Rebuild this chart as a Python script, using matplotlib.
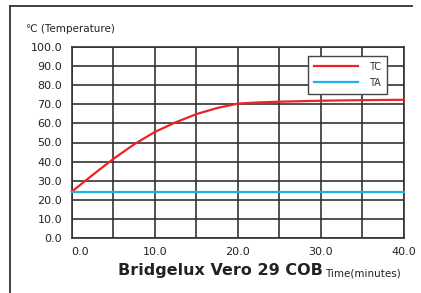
import matplotlib
matplotlib.use("Agg")
import matplotlib.pyplot as plt
from matplotlib.lines import Line2D

time_min = [0, 2.5, 5, 7.5, 10, 12.5, 15, 17.5, 20, 22.5, 25, 30, 35, 40]
tc_vals = [24.3, 33.0, 41.4, 49.0, 55.5, 60.5, 64.8, 68.0, 70.3, 70.9, 71.3, 71.8, 72.1, 72.3]
ta_time = [0, 40]
ta_vals = [24.2, 24.2]
x_ticks = [0, 10, 20, 30, 40]
y_ticks = [0, 10, 20, 30, 40, 50, 60, 70, 80, 90, 100]

W, H = 421, 293
fig = plt.figure(figsize=(W / 100, H / 100), dpi=100)
fig.patch.set_facecolor("white")

def fx(px):
    return px / W

def fy(py):
    return 1 - py / H

# outer frame (partial)
fig.add_artist(Line2D([fx(9.5), fx(9.5)], [fy(6), fy(293)], color="#333333", lw=1.3))
fig.add_artist(Line2D([fx(9.5), fx(412)], [fy(6), fy(6)], color="#333333", lw=1.3))

ax = fig.add_axes([fx(71.7), fy(238.3), fx(404) - fx(71.7), fy(46.7) - fy(238.3)])
ax.set_xlim(0, 40)
ax.set_ylim(0, 100)
ax.set_yticks(y_ticks)
ax.set_xticks(x_ticks, minor=False)
ax.set_xticks([i * 5 for i in range(9)], minor=True)
ax.grid(True, which="both", color="#333333", lw=1.2)
ax.set_axisbelow(True)
for s in ax.spines.values():
    s.set_color("#333333")
    s.set_linewidth(1.2)
ax.tick_params(which="both", length=0, labelsize=8, colors="#222222")
ax.set_xticklabels([f"{v:.1f}" for v in x_ticks])
ax.set_yticklabels([f"{v:.1f}" for v in y_ticks])
ax.tick_params(axis="x", pad=6)
ax.tick_params(axis="y", pad=7)
ax.get_xticklabels()[0].set_horizontalalignment("left")

ax.plot(time_min, tc_vals, color="#ee2222", lw=1.6, label="TC", clip_on=False, zorder=3)
ax.plot(ta_time, ta_vals, color="#18b4ea", lw=1.6, label="TA", clip_on=False, zorder=3)

leg = ax.legend(loc="upper left", bbox_to_anchor=(fx(308), fy(56)), bbox_transform=fig.transFigure,
                borderaxespad=0, fontsize=7, frameon=True, fancybox=False, handlelength=4.5,
                handletextpad=1.2, borderpad=0.6, labelspacing=0.6, labelcolor="#333333")
leg.get_frame().set_edgecolor("#444444")
leg.get_frame().set_linewidth(1.0)
leg.get_frame().set_alpha(1)

fig.text(fx(26), fy(29), "\u2103 (Temperature)", fontsize=7.5, color="#222222", va="center", ha="left")
fig.text(fx(323), fy(271), "Bridgelux Vero 29 COB", fontsize=11.5, fontweight="bold",
         family="DejaVu Sans", color="#222222", ha="right", va="center")
fig.text(fx(325), fy(273), "Time(minutes)", fontsize=7.5, color="#222222", ha="left", va="center")

fig.savefig("out.png", dpi=100)
